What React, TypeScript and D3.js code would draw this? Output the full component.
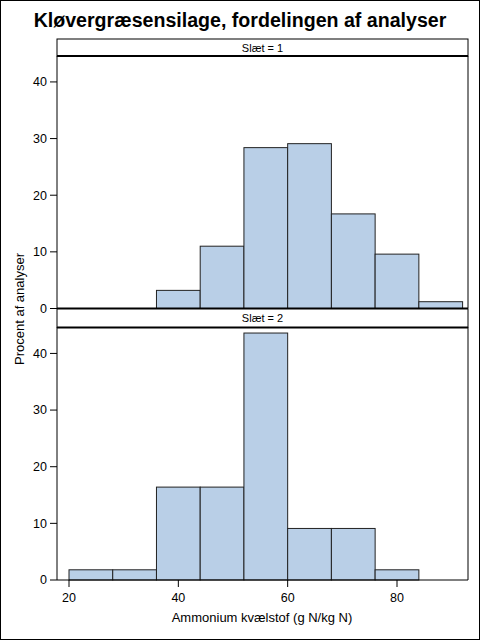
import * as d3 from 'd3';

// bin edges (g N/kg N), 8 units wide
const binStart = [20, 28, 36, 44, 52, 60, 68, 76, 84];
const binWidth = 8;
const panels = ['Slæt = 1', 'Slæt = 2'];
const slaet1 = [0, 0, 3.2, 11.0, 28.4, 29.1, 16.7, 9.6, 1.2];
const slaet2 = [1.8, 1.8, 16.4, 16.4, 43.6, 9.1, 9.1, 1.8, 0];
const yTicks = [0, 10, 20, 30, 40];
const xTicks = [20, 40, 60, 80];

const W = 480;
const H = 640;
const left = 57;
const right = 468;
const font = 'Liberation Sans, Arial, sans-serif';

const panelBoxes = [
  { headTop: 39, headBottom: 56, plotBottom: 308.5, values: slaet1 },
  { headTop: 309, headBottom: 327.5, plotBottom: 580, values: slaet2 },
];

export default function App() {
  const x = d3.scaleLinear().domain([20, 80]).range([69, 397]);

  return (
    <svg width={W} height={H} style={{ position: 'absolute', left: 0, top: 0, background: '#fff' }}>
      <rect x={0.5} y={0.5} width={W - 1} height={H - 1} fill="#fff" stroke="#000" />
      <text x={240} y={27} textAnchor="middle" fontFamily={font} fontWeight="bold" fontSize={19.6}>
        Kløvergræsensilage, fordelingen af analyser
      </text>

      {panelBoxes.map((p, i) => {
        const y = d3.scaleLinear().domain([0, 44.4]).range([p.plotBottom, p.headBottom + 1]);
        return (
          <g key={i}>
            {/* header strip */}
            <rect x={left} y={p.headTop} width={right - left} height={p.headBottom - p.headTop} fill="#fff" stroke="#000" />
            <text x={(left + right) / 2} y={p.headTop + 13} textAnchor="middle" fontFamily={font} fontSize={11}>
              {panels[i]}
            </text>
            {/* bars */}
            {p.values.map((v, j) => (
              <rect
                key={j}
                x={x(binStart[j])}
                y={y(v)}
                width={x(binStart[j] + binWidth) - x(binStart[j])}
                height={p.plotBottom - y(v)}
                fill="#b9cfe7"
                stroke="#222"
                strokeWidth={1}
              />
            ))}
            {/* frame */}
            <line x1={left} x2={left} y1={p.headBottom} y2={p.plotBottom} stroke="#000" />
            <line x1={right} x2={right} y1={p.headBottom} y2={p.plotBottom} stroke="#000" />
            <line x1={left} x2={right} y1={p.headBottom} y2={p.headBottom} stroke="#000" strokeWidth={2} />
            <line x1={left} x2={right} y1={p.plotBottom} y2={p.plotBottom} stroke="#000" strokeWidth={i === 0 ? 2 : 1} />
            {/* y axis */}
            {yTicks.map((t) => (
              <g key={t} transform={`translate(0,${y(t)})`}>
                <line x1={50} x2={left} stroke="#000" />
                <text x={47} dy="0.35em" textAnchor="end" fontFamily={font} fontSize={12.5}>
                  {t}
                </text>
              </g>
            ))}
          </g>
        );
      })}

      {/* x axis */}
      {xTicks.map((t) => (
        <g key={t} transform={`translate(${x(t)},580)`}>
          <line y1={0} y2={7} stroke="#000" />
          <text y={22} textAnchor="middle" fontFamily={font} fontSize={12.5}>
            {t}
          </text>
        </g>
      ))}
      <text x={262} y={622} textAnchor="middle" fontFamily={font} fontSize={13}>
        Ammonium kvælstof (g N/kg N)
      </text>
      <text transform="translate(24,309) rotate(-90)" textAnchor="middle" fontFamily={font} fontSize={13}>
        Procent af analyser
      </text>
    </svg>
  );
}
